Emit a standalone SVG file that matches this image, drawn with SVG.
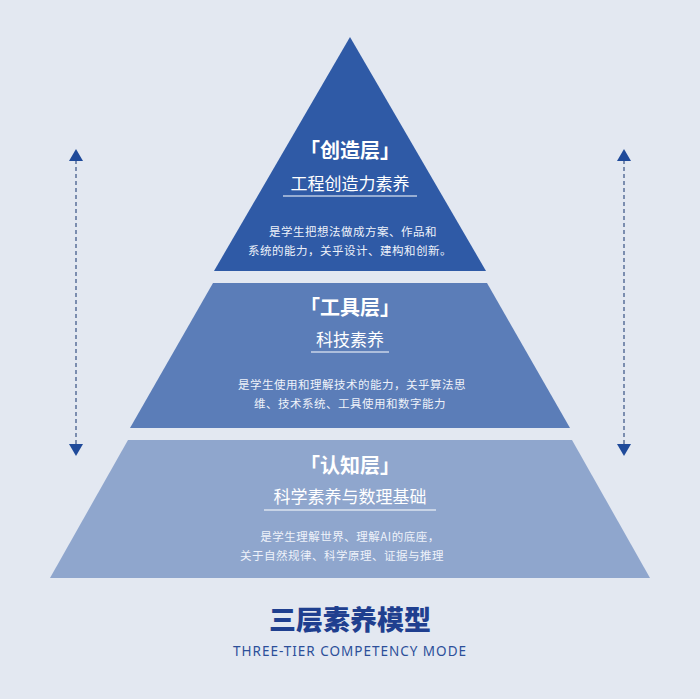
<svg xmlns="http://www.w3.org/2000/svg" width="700" height="699" viewBox="0 0 700 699">
<style>
.t1{font-family:"Noto Sans CJK SC",sans-serif;font-weight:700;font-size:20px;fill:#fff;text-anchor:middle}
.t2{font-family:"Noto Sans CJK SC",sans-serif;font-size:17px;fill:#fff;text-anchor:middle}
.t3{font-family:"Noto Sans CJK SC",sans-serif;font-size:11.5px;fill:#eef2fa;text-anchor:middle;letter-spacing:0.5px}
.ul{stroke:#fff;stroke-width:1.2}
.ax{stroke:#5a6f99;stroke-width:1.5;stroke-dasharray:4 3;fill:none}
.ah{fill:#1f4a9a}
</style>
<rect width="700" height="699" fill="#e3e8f1"/>
<g id="connectors">
<line class="ax" x1="76" y1="160" x2="76" y2="444"/>
<polygon class="ah" points="76,149 69,161 83,161"/>
<polygon class="ah" points="76,456 69,444 83,444"/>
<line class="ax" x1="624" y1="160" x2="624" y2="444"/>
<polygon class="ah" points="624,149 617,161 631,161"/>
<polygon class="ah" points="624,456 617,444 631,444"/>
</g>
<g id="tier-top">
<polygon points="350,37 486,271 214,271" fill="#2f5aa6"/>
<text class="t1" x="350" y="158">「创造层」</text>
<text class="t2" x="350" y="190">工程创造力素养</text>
<line class="ul" x1="283" y1="196" x2="417" y2="196"/>
<text class="t3" x="353" y="236">是学生把想法做成方案、作品和</text>
<text class="t3" x="350" y="255">系统的能力，关乎设计、建构和创新。</text>
</g>
<g id="tier-mid">
<polygon points="213,283 487,283 570,428 130,428" fill="#5b7db8"/>
<text class="t1" x="350" y="315">「工具层」</text>
<text class="t2" x="350" y="346">科技素养</text>
<line class="ul" x1="311" y1="352" x2="389" y2="352"/>
<text class="t3" x="352" y="389">是学生使用和理解技术的能力，关乎算法思</text>
<text class="t3" x="350" y="408">维、技术系统、工具使用和数字能力</text>
</g>
<g id="tier-bottom">
<polygon points="128,440 572,440 650,578 50,578" fill="#8fa6cd"/>
<text class="t1" x="350" y="473">「认知层」</text>
<text class="t2" x="350" y="503">科学素养与数理基础</text>
<line class="ul" x1="264" y1="510" x2="436" y2="510"/>
<text class="t3" x="350" y="541">是学生理解世界、理解AI的底座，</text>
<text class="t3" x="342" y="560">关于自然规律、科学原理、证据与推理</text>
</g>
<g id="title">
<text x="350" y="630" font-family="Noto Sans CJK SC,sans-serif" font-weight="900" font-size="27" fill="#1f3f8f" text-anchor="middle">三层素养模型</text>
<text x="350" y="656" font-family="Noto Sans,sans-serif" font-size="13.5" fill="#2c4f9a" text-anchor="middle" letter-spacing="1">THREE-TIER COMPETENCY MODE</text>
</g>
</svg>
